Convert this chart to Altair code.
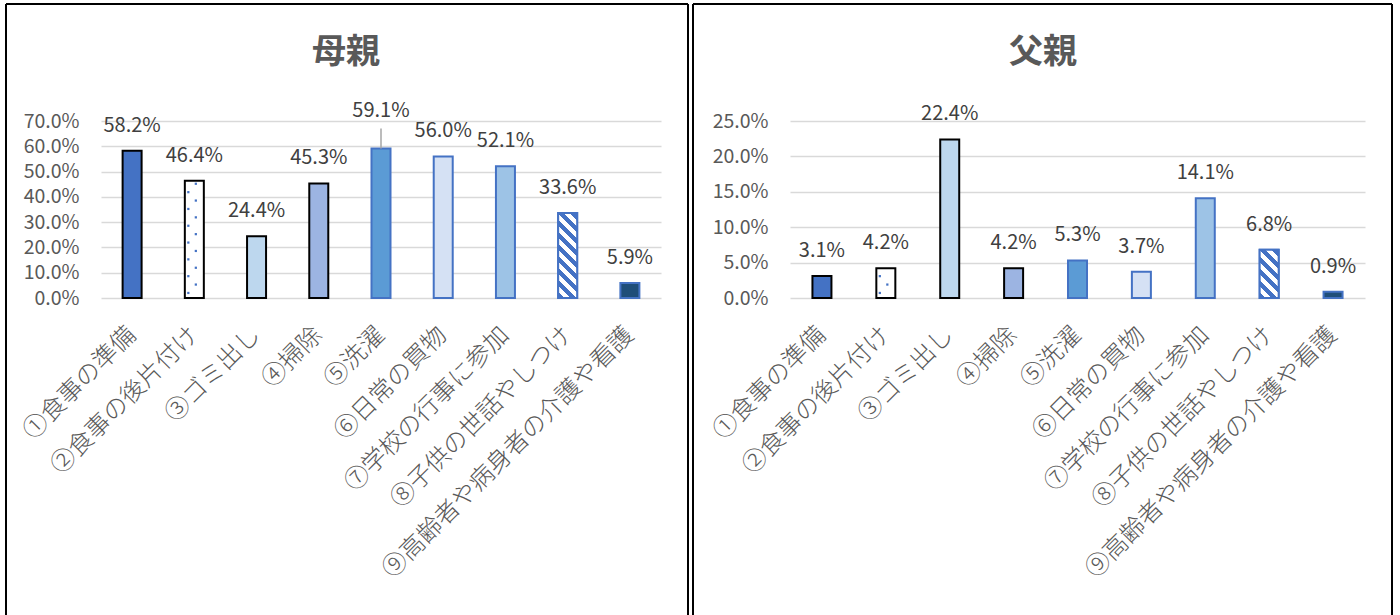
import math
import altair as alt
import pandas as pd

FONT = "Noto Sans CJK JP"

categories = [
    "①食事の準備", "②食事の後片付け", "③ゴミ出し", "④掃除", "⑤洗濯",
    "⑥日常の買物", "⑦学校の行事に参加", "⑧子供の世話やしつけ", "⑨高齢者や病身者の介護や看護",
]
mother_values = [0.582, 0.464, 0.244, 0.453, 0.591, 0.560, 0.521, 0.336, 0.059]
father_values = [0.031, 0.042, 0.224, 0.042, 0.053, 0.037, 0.141, 0.068, 0.009]
mother_ticks = [0.0, 0.1, 0.2, 0.3, 0.4, 0.5, 0.6, 0.7]
father_ticks = [0.0, 0.05, 0.10, 0.15, 0.20, 0.25]

fills = ["#4472C4", "#FFFFFF", "#BDD7EE", "#9CB4E2", "#5B9BD5",
         "#D5E1F4", "#9DC3E6", "#FFFFFF", "#1F4E79"]
strokes = ["#000000", "#000000", "#000000", "#000000", "#4472C4",
           "#4472C4", "#4472C4", "#4472C4", "#4472C4"]

PLOT_H = 177
BAR_W = 19
BLUE = "#4472C4"


def stripe_gradient(value, dmax):
    h = value / dmax * PLOT_H
    w = BAR_W
    k = (w + h) / (w * w + h * h)
    perp = (w + h) / math.sqrt(2)
    period = 8.5 / perp
    stops = []
    t = 0.0
    while t < 1.0:
        a, b, c = t, min(t + period / 2, 1.0), min(t + period, 1.0)
        stops += [
            {"offset": a, "color": BLUE}, {"offset": b, "color": BLUE},
            {"offset": b, "color": "#FFFFFF"}, {"offset": c, "color": "#FFFFFF"},
        ]
        t += period
    return {"gradient": "linear", "x1": 0, "y1": 1, "x2": w * k, "y2": 1 - h * k,
            "stops": stops}


def panel(title, values, ticks, width, title_x, border_l, border_r, lifted=None):
    dmax = ticks[-1]
    df = pd.DataFrame({"cat": categories, "value": values})
    base = alt.Chart(df)
    xenc = alt.X("cat:N", sort=categories,
                 scale=alt.Scale(domain=categories, paddingInner=0, paddingOuter=0),
                 axis=alt.Axis(title=None, labelAngle=-45, labelFontSize=24.5,
                               labelFontWeight=300, labelAlign="right", labelBaseline="middle",
                               labelColor="#595959", labelFont=FONT, domain=False,
                               ticks=False, tickSize=0, labelPadding=33, labelLimit=500,
                               grid=False))
    yaxis = alt.Axis(title=None, values=ticks, format=".1%", labelFontSize=19.5,
                     labelColor="#595959", labelFont=FONT, domain=False, ticks=False,
                     tickSize=0, labelPadding=22, grid=True, gridColor="#D9D9D9",
                     gridWidth=1.5)
    yscale = alt.Scale(domain=[0, dmax], nice=False, zero=True)
    yenc = alt.Y("value:Q", scale=yscale, axis=yaxis)

    bars = base.mark_bar(width=BAR_W, strokeWidth=2).encode(
        x=xenc, y=yenc,
        fill=alt.Fill("cat:N", scale=alt.Scale(domain=categories, range=fills), legend=None),
        stroke=alt.Stroke("cat:N", scale=alt.Scale(domain=categories, range=strokes), legend=None),
    )
    striped = base.transform_filter(alt.datum.cat == categories[7]).mark_bar(
        width=BAR_W, strokeWidth=2, stroke=BLUE, fill=stripe_gradient(values[7], dmax)
    ).encode(x=xenc, y=yenc)

    step = 8.4 / PLOT_H * dmax
    dots = []
    for start, off in [(step * 0.6, -6), (step * 1.6, 1.5)]:
        dots.append(
            base.transform_filter(alt.datum.cat == categories[1])
            .transform_calculate(seq=f"sequence({start}, datum.value - {step * 0.3}, {2 * step})")
            .transform_flatten(["seq"])
            .mark_square(size=5, color=BLUE, opacity=1, xOffset=off)
            .encode(x=xenc, y=alt.Y("seq:Q", scale=yscale, axis=yaxis))
        )

    text_style = dict(fontSize=20, color="#404040", font=FONT)
    if lifted is None:
        labels = [base.mark_text(dy=-25, **text_style).encode(
            x=xenc, y=yenc, text=alt.Text("value:Q", format=".1%"))]
    else:
        labels = [
            base.transform_filter(alt.datum.cat != categories[lifted]).mark_text(
                dy=-25, **text_style).encode(x=xenc, y=yenc, text=alt.Text("value:Q", format=".1%")),
            base.transform_filter(alt.datum.cat == categories[lifted]).mark_rule(
                color="#A6A6A6", strokeWidth=1.5, y2Offset=-20).encode(
                x=xenc, y=yenc, y2=alt.Y2("value:Q")),
            base.transform_filter(alt.datum.cat == categories[lifted]).mark_text(
                dy=-38, **text_style).encode(x=xenc, y=yenc, text=alt.Text("value:Q", format=".1%")),
        ]

    one = alt.Data(values=[{"t": title}])
    deco = alt.Chart(one)
    border = [
        deco.mark_rule(color="black", strokeWidth=2).encode(
            x=alt.value(border_l), y=alt.value(-117), y2=alt.value(494)),
        deco.mark_rule(color="black", strokeWidth=2).encode(
            x=alt.value(border_r), y=alt.value(-117), y2=alt.value(494)),
        deco.mark_rule(color="black", strokeWidth=2).encode(
            x=alt.value(border_l), x2=alt.value(border_r), y=alt.value(-117)),
    ]
    ttl = deco.mark_text(fontSize=34, fontWeight="bold", color="#595959", font=FONT).encode(
        x=alt.value(title_x), y=alt.value(-68), text="t:N")

    return alt.layer(*border, bars, striped, *dots, *labels, ttl).properties(
        width=width, height=PLOT_H)


left = panel("母親", mother_values, mother_ticks, 560, 245, -95, 587, lifted=4)
right = panel("父親", father_values, father_ticks, 575, 253, -97, 602)

chart = alt.hconcat(left, right, spacing=1).resolve_scale(
    x="independent", y="independent"
).properties(
    padding={"left": 4, "top": 2, "right": 0, "bottom": 0}
).configure_view(stroke="transparent")

chart.save("out.html", embed_options={"renderer": "svg", "actions": False})
